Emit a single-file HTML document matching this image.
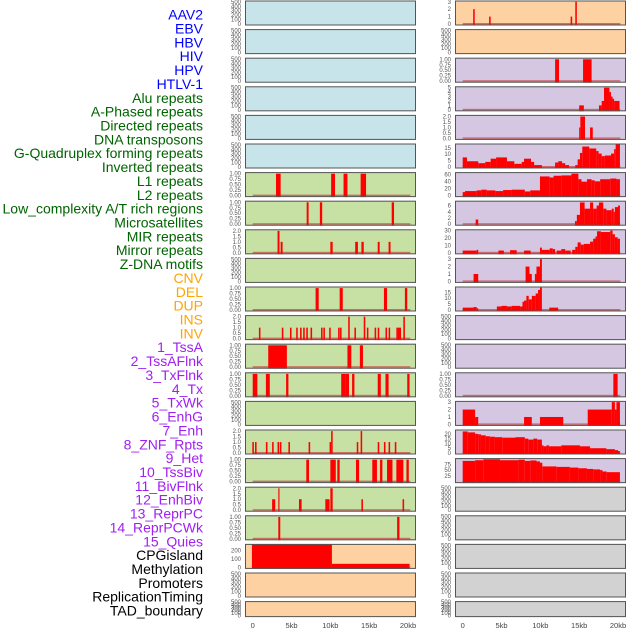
<!DOCTYPE html>
<html><head><meta charset="utf-8"><style>
html,body{margin:0;padding:0;background:#fff}
svg{display:block}
</style></head><body>
<svg id="chart" width="630" height="630" viewBox="0 0 630 630" xmlns="http://www.w3.org/2000/svg"></svg>
<script>
const labels=["AAV2","EBV","HBV","HIV","HPV","HTLV-1","Alu repeats","A-Phased repeats","Directed repeats","DNA transposons","G-Quadruplex forming repeats","Inverted repeats","L1 repeats","L2 repeats","Low_complexity A/T rich regions","Microsatellites","MIR repeats","Mirror repeats","Z-DNA motifs","CNV","DEL","DUP","INS","INV","1_TssA","2_TssAFlnk","3_TxFlnk","4_Tx","5_TxWk","6_EnhG","7_Enh","8_ZNF_Rpts","9_Het","10_TssBiv","11_BivFlnk","12_EnhBiv","13_ReprPC","14_ReprPCWk","15_Quies","CPGisland","Methylation","Promoters","ReplicationTiming","TAD_boundary"];
const labelGroups=[6,13,5,15,5];
const groupColors=["#0000ff","#006400","#ffa500","#a020f0","#000000"];
const xTickValues=[0,5,10,15,20];
const xTickLabels=["0","5kb","10kb","15kb","20kb"];
const tickSets={
 t500:[0,100,200,300,400,500],
 t1:[0,0.25,0.5,0.75,1],
 t2:[0,0.5,1,1.5,2],
 t3:[0,1,2,3],
 t5:[0,1,2,3,4,5],
 t15:[0,5,10,15],
 t60:[0,20,40,60],
 t6:[0,2,4,6],
 t30:[0,10,20,30],
 t20:[0,5,10,15,20],
 t75:[25,50,75],
 t200:[0,100,200]
};
const tickFmt={t1:2,t2:1};
const bgL=["#c7e4eb","#c7e4eb","#c7e4eb","#c7e4eb","#c7e4eb","#c7e4eb","#c7e0a4","#c7e0a4","#c7e0a4","#c7e0a4","#c7e0a4","#c7e0a4","#c7e0a4","#c7e0a4","#c7e0a4","#c7e0a4","#c7e0a4","#c7e0a4","#c7e0a4","#fdd1a2","#fdd1a2","#fdd1a2"];
const bgR=["#fdd1a2","#fdd1a2","#d5c7e2","#d5c7e2","#d5c7e2","#d5c7e2","#d5c7e2","#d5c7e2","#d5c7e2","#d5c7e2","#d5c7e2","#d5c7e2","#d5c7e2","#d5c7e2","#d5c7e2","#d5c7e2","#d5c7e2","#d2d2d2","#d2d2d2","#d2d2d2","#d2d2d2","#d2d2d2"];
const yMaxL=[520,520,520,520,520,520,1.05,1.05,2.1,520,1.05,2.1,1.05,1.05,520,2.1,1.05,2.1,1.05,270,520,520];
const yMaxR=[3.1,520,1.05,5.2,2.1,18,66,7.4,31,3.1,19.5,520,520,1.05,3.1,24,100,520,520,520,520,520];
const ticksL=["t500","t500","t500","t500","t500","t500","t1","t1","t2","t500","t1","t2","t1","t1","t500","t2","t1","t2","t1","t200","t500","t500"];
const ticksR=["t3","t500","t1","t5","t2","t15","t60","t6","t30","t3","t15","t500","t500","t1","t3","t20","t75","t500","t500","t500","t500","t500"];

// bars: [startKb, endKb, value]
const barsL6=[[3.0,3.6,1],[10.1,10.6,1],[11.7,12.2,1],[13.9,14.6,1]];
const barsL7=[[6.95,7.2,1],[8.65,8.95,1],[17.9,18.2,1]];
const barsL8=[[3.2,3.45,2],[3.6,3.85,1],[10.0,10.3,1],[13.2,13.55,1],[14.0,14.3,1],[16.1,16.35,1],[17.5,17.75,1]];
const barsL10=[[8.1,8.5,1],[11.2,11.6,1],[16.9,17.3,1],[19.6,19.9,1]];
const barsL11=[[0.8,1.0,1],[3.75,3.95,1],[4.8,5.0,1],[5.6,5.8,1],[6.1,6.3,1],[6.5,6.7,1],[6.9,7.1,1],[7.45,7.65,1],[8.8,9.0,1],[9.1,9.3,1],[9.85,10.05,1],[11.0,11.2,1],[11.25,11.45,1],[12.3,12.5,2],[13.1,13.3,1],[14.3,14.5,2],[14.7,14.9,1],[15.7,15.9,1],[16.1,16.3,1],[17.1,17.3,1],[17.5,17.7,1],[18.5,18.7,1],[18.7,18.9,1],[18.9,19.1,1],[19.4,19.6,2]];
const barsL12=[[2.0,4.4,1],[12.2,12.7,1],[13.8,14.2,1]];
const barsL13=[[0.0,0.6,1],[1.7,2.2,1],[4.3,4.6,1],[11.4,12.0,1],[12.0,12.4,1],[12.8,13.1,1],[16.1,16.5,1],[17.1,17.5,1],[19.9,20.2,1]];
const barsL15=[[-0.05,0.15,1],[0.3,0.5,1],[1.7,1.9,1],[2.5,2.7,1],[3.2,3.4,1],[3.5,3.7,1],[4.6,4.8,1],[7.2,7.4,1],[9.9,10.1,1],[10.1,10.3,2],[13.4,13.6,1],[13.9,14.1,2],[16.1,16.3,1],[16.9,17.1,1],[17.5,17.7,1],[18.3,18.5,1]];
const barsL16=[[6.9,7.25,1],[10.0,10.7,1],[10.9,11.2,1],[13.3,13.7,1],[15.4,16.0,1],[16.4,16.7,1],[17.3,18.0,1],[18.5,19.4,1],[19.8,20.1,1]];
const barsL17=[[2.5,2.9,1],[3.3,3.45,2],[5.96,6.3,1],[9.35,9.9,1],[10.0,10.3,2],[14.0,14.2,1],[19.3,19.5,1]];
const barsL18=[[3.3,3.55,1],[18.6,18.9,1]];
const barsL19=[[-0.1,10.2,270],[10.2,20.2,42]];
const barsR0=[[1.35,1.55,2],[3.4,3.6,1],[13.9,14.1,1],[14.5,14.7,3]];
const barsR2=[[11.9,12.4,1],[15.5,16.6,1]];
const barsR3=[[15.0,15.6,1],[17.55,17.9,1],[17.9,18.2,2],[18.2,18.9,5],[18.9,19.1,4],[19.1,19.3,3],[19.3,19.5,2.5],[19.5,20.2,2]];
const barsR4=[[15.0,15.15,1],[15.15,15.75,2],[16.4,16.75,1]];
const barsR5=[[0,0.55,7.5],[0.55,2.0,4.5],[2.0,2.9,3],[2.9,3.6,4],[3.6,4.3,6.5],[4.3,5.7,7.5],[5.7,6.65,4.5],[6.65,7.6,2.5],[7.6,7.9,4],[7.9,8.8,6.5],[8.8,9.2,4],[9.2,10.2,1.5],[11.9,12.3,3.5],[12.3,12.8,4.5],[12.8,13.2,3],[13.2,13.7,1.5],[14.5,14.8,1.5],[14.8,15.1,6],[15.1,15.4,11],[15.4,16.3,16],[16.3,17.2,14.5],[17.2,17.5,12.5],[17.5,17.9,10.5],[17.9,18.3,8.5],[18.3,19.1,9],[19.1,19.5,10.5],[19.5,19.7,14],[19.7,20.25,18]];
const barsR6=[[0,0.3,10],[0.3,1.8,13],[1.8,2.4,15],[2.4,3.1,17],[3.1,4.2,15],[4.2,5.2,13],[5.2,6.3,16],[6.3,8.0,17],[8.0,8.7,12],[8.7,9.95,15],[9.95,11.2,55],[11.2,11.7,52],[11.7,12.7,57],[12.7,14.0,58],[14.0,14.9,63],[14.9,15.3,47],[15.3,16.0,40],[16.0,16.6,47],[16.6,17.0,44],[17.0,17.7,41],[17.7,19.0,47],[19.0,19.8,49],[19.8,20.25,47]];
const barsR7=[[1.67,2.0,1.5],[14.46,14.7,1],[14.7,15.1,3],[15.1,15.7,7],[15.7,16.4,5],[16.4,16.8,7],[16.8,17.25,5],[17.25,17.55,6],[17.55,18.1,7],[18.1,18.5,5],[18.5,19.2,4.5],[19.2,19.45,5],[19.45,19.6,4],[19.6,20.0,5.5],[20.0,20.25,6]];
const barsR8=[[0,1.8,3],[1.8,2.0,4],[4.6,5.3,3],[6.1,6.95,3.5],[7.9,8.75,3],[9.95,10.2,7],[10.2,11.2,4],[11.2,11.6,6],[11.6,11.9,5],[12.1,12.7,3],[12.7,13.2,5],[13.2,13.9,3],[14.1,14.5,4],[14.5,14.8,8],[14.8,15.2,14],[15.2,15.6,11],[15.6,16.4,12],[16.4,16.8,15],[16.8,17.1,19],[17.1,17.3,22],[17.3,17.8,29],[17.8,19.0,28],[19.0,19.3,30],[19.3,19.6,25],[19.6,19.95,21],[19.95,20.25,19]];
const barsR9=[[1.4,2.0,1],[8.1,8.6,2],[8.6,8.9,1],[9.3,9.5,1],[9.5,9.95,2],[9.95,10.2,3]];
const barsR10=[[0,1.4,2],[1.4,1.8,2.5],[1.8,2.0,1.5],[4.4,5.0,3],[5.0,5.7,3.5],[5.7,6.3,3],[6.3,7.4,3.5],[7.4,7.7,3],[7.7,7.9,7],[7.9,8.2,8],[8.2,8.5,12],[8.5,8.9,9],[8.9,9.4,12],[9.4,9.7,14],[9.7,9.95,17],[9.95,10.2,19],[11.15,12.3,2]];
const barsR13=[[19.4,19.95,1]];
const barsR14=[[0,1.6,2],[1.6,2.0,1],[7.9,8.9,1],[9.95,12.95,1],[16.1,19.2,2],[19.2,19.6,3],[19.6,19.8,2],[19.8,20.25,3]];
const barsR15=[[0,0.64,22.5],[0.64,1.6,21.5],[1.6,2.0,20],[2.0,2.35,19.5],[2.35,2.95,18.5],[2.95,3.5,17.5],[3.5,4.15,17],[4.15,5.1,16.5],[5.1,6.8,16],[6.8,8.0,16.5],[8.0,8.45,15],[8.45,9.1,14],[9.1,9.6,15],[9.6,10.2,14],[10.2,10.4,8],[10.4,10.8,7],[10.8,11.1,8],[11.1,12.7,7],[12.7,15.1,8],[15.1,16.4,7],[16.4,18.5,5],[18.5,19.6,4],[19.6,20.0,3],[20.0,20.25,2]];
const barsR16=[[0,1.6,90],[1.6,2.65,93],[2.65,4.8,97],[4.8,7.2,93],[7.2,8.0,95],[8.0,8.7,90],[8.7,9.5,92],[9.5,9.95,88],[9.95,10.25,82],[10.25,12.1,66],[12.1,13.8,64],[13.8,14.9,61],[14.9,16.0,58],[16.0,16.8,55],[16.8,17.7,53],[17.7,18.0,50],[18.0,18.55,44],[18.55,20.25,41]];
const barsL=[[],[],[],[],[],[],barsL6,barsL7,barsL8,[],barsL10,barsL11,barsL12,barsL13,[],barsL15,barsL16,barsL17,barsL18,barsL19,[],[]];
const barsR=[barsR0,[],barsR2,barsR3,barsR4,barsR5,barsR6,barsR7,barsR8,barsR9,barsR10,[],[],barsR13,barsR14,barsR15,barsR16,[],[],[],[],[]];

const NS="http://www.w3.org/2000/svg";
const svg=document.getElementById("chart");
function mk(tag,attrs,parent){const e=document.createElementNS(NS,tag);for(const k in attrs)e.setAttribute(k,attrs[k]);(parent||svg).appendChild(e);return e;}

let li=0;
labelGroups.forEach((n,g)=>{for(let k=0;k<n;k++){const t=mk("text",{x:203,y:15+li*13.86+4.6,"text-anchor":"end","font-family":"Liberation Sans, sans-serif","font-size":"14",fill:groupColors[g]});


t.textContent=labels[li];li++;}});

const colX=[{px:245,x0:252.7},{px:455,x0:462.7}];
const kbPx=7.765;
function rowTop(i){return 0.5+i*28.6;}
function rowH(i){return i===21?16:25;}

function drawColumn(c,bgs,ymaxs,ticks,bars){
 const cx=colX[c];
 const xs=kb=>cx.x0+kb*kbPx;
 for(let i=0;i<22;i++){
  const top=rowTop(i),h=rowH(i);
  const g=mk("g",{});
  
  
  mk("rect",{x:cx.px,y:top,width:171,height:h,fill:bgs[i]},g);
  const y0=top+h-1.5,y1=top+0.5;
  const ys=v=>y0-(v/ymaxs[i])*(y0-y1);
  const ts=tickSets[ticks[i]],fd=tickFmt[ticks[i]];
  ts.forEach(v=>{const t=mk("text",{x:cx.px-4,y:ys(v)+2,"text-anchor":"end","font-family":"Liberation Sans, sans-serif","font-size":"6",fill:"#555"},g);
   
   
   t.textContent=fd!==undefined?v.toFixed(fd):String(v);});
  if(bars[i].length){
   const bl=mk("rect",{x:xs(0),y:y0-1,width:xs(20.3)-xs(0),height:1.5,fill:"#c84040",opacity:0.7},g);
   
   
   bars[i].forEach(b=>{const r=mk("rect",{x:xs(b[0]),y:ys(b[2]),width:Math.max(1,xs(b[1])-xs(b[0])),height:Math.max(0,y0-ys(b[2])+1.5),fill:"#ff0000"},g);
    
    });
  }
  mk("rect",{x:cx.px+0.5,y:top+0.5,width:170,height:h-1,fill:"none",stroke:"#555",'stroke-width':1},g);
 }
 xTickValues.forEach((v,k)=>{const t=mk("text",{x:xs(v),y:628,"text-anchor":"middle","font-family":"Liberation Sans, sans-serif","font-size":"7.5",fill:"#444"});
  
  
  t.textContent=xTickLabels[k];});
}
drawColumn(0,bgL,yMaxL,ticksL,barsL);
drawColumn(1,bgR,yMaxR,ticksR,barsR);
</script>
</body></html>
